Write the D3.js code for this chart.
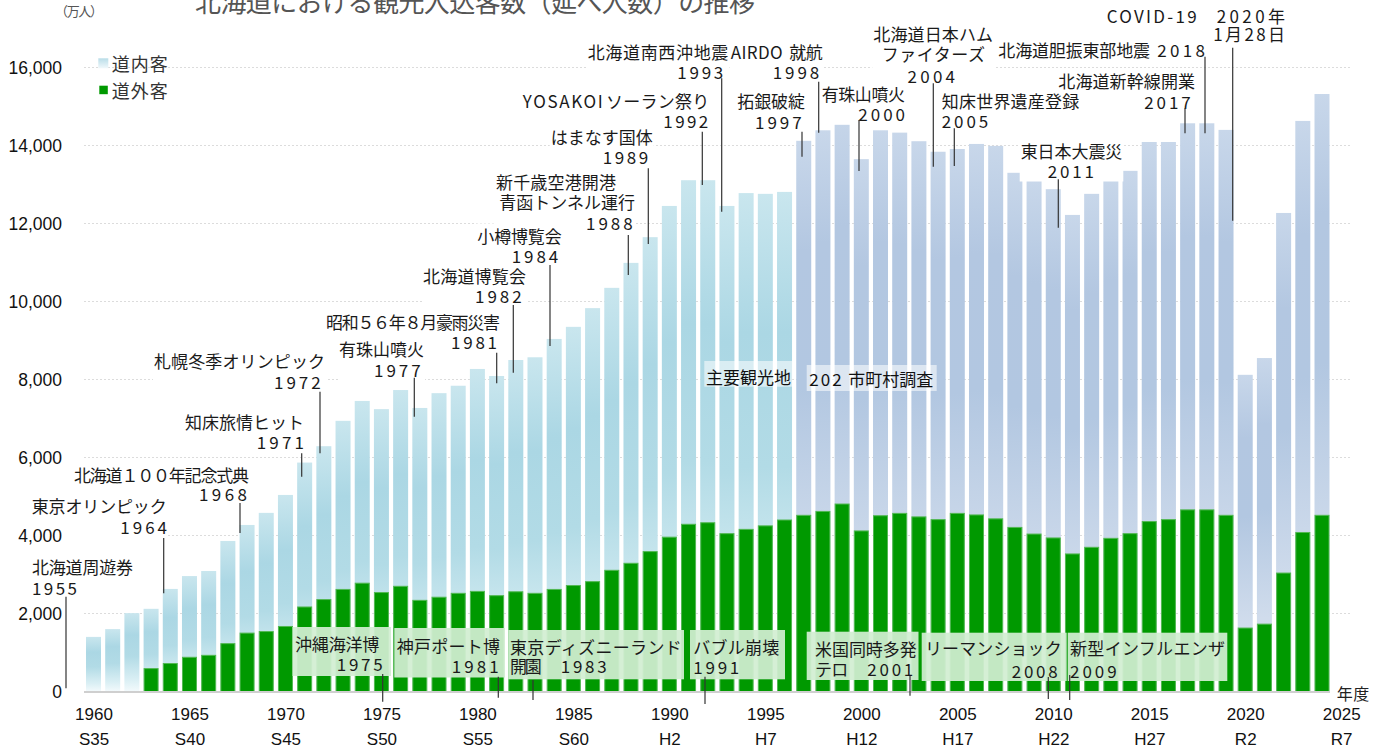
<!DOCTYPE html>
<html>
<head>
<meta charset="utf-8">
<script src="https://cdn.jsdelivr.net/npm/d3@7"></script>
<style>
  body { margin: 0; background: #fff; }
  svg { display: block; }
</style>
</head>
<body>
<svg id="chart" width="1384" height="749"></svg>
<script>
// 北海道 観光入込客数（延べ人数, 万人）
const years = d3.range(1960, 2025);

// 道内客
const insideVisitors = [
  1400, 1600, 2010, 1520, 1900, 2070, 2150, 2620, 2760, 3030,
  3360, 3690, 3920, 4310, 4660, 4690, 5020, 4920, 5220, 5310,
  5690, 5620, 5930, 6040, 6410, 6620, 7000, 7230, 7690, 8050,
  8480, 8810, 8770, 8390, 8610, 8500, 8400, 9590, 9760, 10120,
  9520, 9870, 9750, 9620, 9420, 9330, 9500, 9550, 9080, 9040,
  8930, 8680, 9050, 9250, 9290, 9720, 9670, 9900, 9900, 9870,
  6480, 6810, 9220, 10540, 10790
];

// 道外客
const outsideVisitors = [
  0, 0, 0, 600, 730, 890, 940, 1240, 1510, 1550,
  1680, 2180, 2370, 2630, 2790, 2550, 2710, 2350, 2430, 2530,
  2580, 2470, 2570, 2530, 2630, 2730, 2830, 3120, 3300, 3600,
  3970, 4300, 4340, 4060, 4170, 4260, 4410, 4530, 4630, 4820,
  4130, 4520, 4580, 4490, 4420, 4580, 4540, 4440, 4220, 4050,
  3950, 3540, 3710, 3940, 4060, 4370, 4420, 4670, 4670, 4530,
  1640, 1740, 3050, 4090, 4530
];

// 調査方法の変更（主要観光地 → 202市町村調査）
const surveyChangeYear = 1997;

const yTicks = [0, 2000, 4000, 6000, 8000, 10000, 12000, 14000, 16000];
const xTickYears = [1960, 1965, 1970, 1975, 1980, 1985, 1990, 1995, 2000, 2005, 2010, 2015, 2020, 2025];
const eraLabels = ["S35", "S40", "S45", "S50", "S55", "S60", "H2", "H7", "H12", "H17", "H22", "H27", "R2", "R7"];

const seriesNames = ["道内客", "道外客"];

// 上部の出来事ラベル: [文字, 左端x, 幅, 中心y] と引出線 [x, y1, y2]
const topNotes = [
  { lines: [["北海道周遊券", 32, 101, 566.7], ["1955", 32, 45, 587.7]], leader: [66, 596.7, 688.3] },
  { lines: [["東京オリンピック", 31.7, 135, 505], ["1964", 120.3, 46.7, 526]], leader: [163.7, 538, 593.3] },
  { lines: [["北海道１００年記念式典", 74, 175, 474], ["1968", 199, 48, 493.3]], leader: [240, 503, 533] },
  { lines: [["知床旅情ヒット", 185, 119, 421.7], ["1971", 256.7, 47.3, 441.7]], leader: [301.7, 453.3, 476.7] },
  { lines: [["札幌冬季オリンピック", 154, 171, 360], ["1972", 274, 46.7, 381]], leader: [320, 391.7, 453.3] },
  { lines: [["有珠山噴火", 339, 85, 348.3], ["1977", 374, 46.7, 369]], leader: [414.3, 377.7, 416.7] },
  { lines: [["昭和５６年８月豪雨災害", 326, 174, 321.7], ["1981", 451, 46, 341.7]], leader: [496.7, 352.7, 383.3] },
  { lines: [["北海道博覧会", 423, 103, 275], ["1982", 475, 46.7, 295]], leader: [513.3, 305, 372.7] },
  { lines: [["小樽博覧会", 477.3, 84.4, 235], ["1984", 511.7, 46.6, 255]], leader: [550, 265, 346] },
  { lines: [["新千歳空港開港", 496, 120, 181.7], ["青函トンネル運行", 499.3, 135.7, 201.7], ["1988", 586, 46.7, 222.3]], leader: [628.3, 235, 275] },
  { lines: [["はまなす国体", 550.7, 102, 136.7], ["1989", 602.7, 45.6, 156.7]], leader: [648.3, 168.3, 244] },
  { lines: [["YOSAKOI", 522.7, 80, 100], ["ソーラン祭り", 606, 103.3, 100], ["1992", 663.3, 45, 120]], leader: [702.3, 131.7, 185] },
  { lines: [["北海道南西沖地震", 587.7, 140.6, 51.7], ["1993", 677.3, 46, 71.7]], leader: [721.7, 78.3, 211.7] },
  { lines: [["AIRDO", 730.7, 52, 51.7], ["就航", 789.3, 33.4, 51.7], ["1998", 772.7, 46.6, 71.7]], leader: [818.7, 81.7, 132.7] },
  { lines: [["拓銀破綻", 737.3, 67.7, 100], ["1997", 755, 46.7, 121.7]], leader: [802, 131.7, 156.7] },
  { lines: [["有珠山噴火", 821.7, 83.3, 93.3], ["2000", 858.3, 46.7, 113.3]], leader: [859, 120, 171] },
  { lines: [["北海道日本ハム", 873.3, 119.7, 33], ["ファイターズ", 881.7, 103.3, 53.3], ["2004", 907.5, 47.5, 75]], leader: [933.3, 83.3, 166.7] },
  { lines: [["知床世界遺産登録", 941.7, 137.6, 100], ["2005", 941.7, 46.6, 120]], leader: [954.3, 128.3, 166] },
  { lines: [["東日本大震災", 1020.7, 101.6, 150], ["2011", 1047.7, 46.3, 170]], leader: [1058.3, 179.3, 227.7] },
  { lines: [["北海道胆振東部地震", 998.3, 151.7, 49.3], ["2018", 1157.3, 47.7, 49.3]], leader: [1205, 56.7, 133.3] },
  { lines: [["北海道新幹線開業", 1058.3, 136.7, 80], ["2017", 1144.3, 46.4, 101]], leader: [1185, 108.3, 133.3] },
  { lines: [["COVID-19", 1106.7, 90, 15], ["2020年", 1216.7, 68.3, 15], ["1月28日", 1213.3, 71.7, 33.3]], leader: [1232.7, 47.7, 220.7] }
];

// 下部の緑枠ラベル: 枠 [x0, x1, y0, y1]
const bottomNotes = [
  { box: [292.5, 391, 627, 676], lines: [["沖縄海洋博", 295, 84.3, 643.3], ["1975", 336.7, 46, 663.3]], leader: [382.7, 674, 701.7] },
  { box: [394.3, 505, 628, 677.5], lines: [["神戸ポート博", 396.7, 103.3, 645], ["1981", 451.7, 47, 665]], leader: [498.3, 676.7, 697.7] },
  { box: [508.3, 684, 630, 679.3], lines: [["東京ディズニーランド", 510, 171.7, 646], ["開園", 510, 31.7, 665.7], ["1983", 560.7, 46, 665.7]], leader: [533, 680, 700] },
  { box: [690, 785, 630, 679.3], lines: [["バブル崩壊", 693.3, 86, 646.7], ["1991", 693.3, 46, 666.7]], leader: [705, 676.7, 704] },
  { box: [806.7, 918.5, 631.7, 680], lines: [["米国同時多発", 815, 101.7, 648.3], ["テロ", 815, 33.3, 668.3], ["2001", 867.3, 46, 668.3]], leader: [910, 676, 695.7] },
  { box: [921.7, 1066.7, 632.7, 681], lines: [["リーマンショック", 925, 136.7, 647.7], ["2008", 1011.7, 46, 670]], leader: [1048.3, 677, 699] },
  { box: [1067.7, 1227.3, 632.7, 681], lines: [["新型インフルエンザ", 1070, 155, 647.7], ["2009", 1070, 46.7, 670]], leader: [1069.7, 675, 700] }
];

const JP = "'Noto Sans CJK JP', 'Noto Sans', sans-serif";
const NUM = "'Liberation Sans', Arial, sans-serif";

const svg = d3.select("#chart");

// scales
const x = d3.scaleLinear().domain([1960, 2024]).range([93.5, 1322]);
const y = d3.scaleLinear().domain([0, 16000]).range([691.5, 67.5]);
const barW = 15;

// gradients for the 道内客 bars
const defs = svg.append("defs");
function addGradient(id, stops) {
  const g = defs.append("linearGradient").attr("id", id)
    .attr("x1", 0).attr("y1", 0).attr("x2", 0).attr("y2", 1);
  stops.forEach(([o, c]) => g.append("stop").attr("offset", o).attr("stop-color", c));
}
addGradient("gradOld", [[0, "#c9e6ee"], [0.28, "#abd7e4"], [0.55, "#b2dbe6"], [0.85, "#daeff4"], [1, "#f3fafc"]]);
addGradient("gradNew", [[0, "#c8d7ea"], [0.2, "#b3c7e1"], [0.45, "#b2c7e1"], [0.78, "#d0dcec"], [1, "#dee6f1"]]);
addGradient("gradLegend", [[0, "#b9dde8"], [1, "#f0f8fb"]]);

// gridlines
svg.append("g").selectAll("line")
  .data(yTicks.filter(d => d > 0))
  .join("line")
  .attr("x1", 84).attr("x2", 1352)
  .attr("y1", d => y(d)).attr("y2", d => y(d))
  .attr("stroke", "#dcdcdc").attr("stroke-width", 1)
  .attr("stroke-dasharray", "2,2");

// stacked data
const table = years.map((yr, i) => ({ year: yr, "道外客": outsideVisitors[i], "道内客": insideVisitors[i] }));
const stack = d3.stack().keys(["道外客", "道内客"]);
const series = stack(table);
const outsideSeries = series[0];
const insideSeries = series[1];

// 道内客: drawn from the stack top down to the baseline, 道外客 overlays the lower part
svg.append("g").selectAll("rect")
  .data(insideSeries)
  .join("rect")
  .attr("x", d => x(d.data.year) - barW / 2)
  .attr("width", barW)
  .attr("y", d => y(d[1]))
  .attr("height", d => y(0) - y(d[1]))
  .attr("fill", d => d.data.year >= surveyChangeYear ? "url(#gradNew)" : "url(#gradOld)");

svg.append("g").selectAll("rect")
  .data(outsideSeries.filter(d => d[1] > d[0]))
  .join("rect")
  .attr("x", d => x(d.data.year) - barW / 2 + 0.5)
  .attr("width", barW - 1)
  .attr("y", d => y(d[1]) + 0.5)
  .attr("height", d => y(d[0]) - y(d[1]) - 0.5)
  .attr("fill", "#009900")
  .attr("stroke", "#52b852")
  .attr("stroke-width", 1);

// baseline
svg.append("line")
  .attr("x1", 84).attr("x2", 1330)
  .attr("y1", y(0) + 0.5).attr("y2", y(0) + 0.5)
  .attr("stroke", "#cfcfcf").attr("stroke-width", 2);

// layers for the event notes (backings sit below the axis labels)
const noteBg = svg.append("g");

// y axis
const yAxis = svg.append("g")
  .attr("transform", "translate(63,0)")
  .call(d3.axisLeft(y).tickValues(yTicks).tickFormat(d3.format(",")).tickSize(0).tickPadding(1));
yAxis.select(".domain").remove();
yAxis.attr("font-family", NUM).attr("font-size", 17.5);
yAxis.selectAll("text").attr("fill", "#111").attr("dy", "0.36em");

// x axis: 西暦 + 和暦
const xAxis = svg.append("g")
  .attr("transform", `translate(0,${y(0)})`)
  .call(d3.axisBottom(x).tickValues(xTickYears).tickFormat(d3.format("d")).tickSize(0).tickPadding(16.5));
xAxis.select(".domain").remove();
xAxis.attr("font-family", NUM).attr("font-size", 17);
xAxis.selectAll("text").attr("fill", "#111");
xAxis.selectAll(".tick").append("text")
  .attr("fill", "#111")
  .attr("y", 41)
  .attr("dy", "0.71em")
  .text((d, i) => eraLabels[i]);

// unit labels
svg.append("text").attr("x", 1336.7).attr("y", 692.7)
  .attr("dominant-baseline", "central")
  .attr("font-family", JP).attr("font-size", 16).attr("fill", "#222")
  .attr("textLength", 32.6).attr("lengthAdjust", "spacing")
  .text("年度");

svg.append("text").attr("x", 55).attr("y", 10)
  .attr("dominant-baseline", "central")
  .attr("font-family", JP).attr("font-size", 13).attr("fill", "#555")
  .attr("textLength", 48).attr("lengthAdjust", "spacing")
  .text("（万人）");

// title
svg.append("text").attr("x", 195).attr("y", 12)
  .attr("font-family", JP).attr("font-size", 26).attr("fill", "#555")
  .attr("textLength", 560).attr("lengthAdjust", "spacing")
  .text("北海道における観光入込客数（延べ人数）の推移");

// legend
const legend = svg.append("g").attr("font-family", JP).attr("font-size", 18).attr("fill", "#333");
legend.append("rect").attr("x", 98.3).attr("y", 58.3).attr("width", 10).attr("height", 10).attr("fill", "url(#gradLegend)");
legend.append("rect").attr("x", 99.3).attr("y", 85.7).attr("width", 8.5).attr("height", 8.5).attr("fill", "#009900");
legend.selectAll("text.lg").data(seriesNames).join("text")
  .attr("class", "lg")
  .attr("x", 111.7)
  .attr("y", (d, i) => i === 0 ? 63.3 : 90)
  .attr("dominant-baseline", "central")
  .attr("textLength", 56).attr("lengthAdjust", "spacing")
  .text(d => d);

// survey method labels
const methodLabels = [
  { box: [704.3, 792.3, 361, 386.7], parts: [["主要観光地", 706, 85, 376]] },
  { box: [806.7, 936.7, 365, 391], parts: [["202", 809.3, 32.4, 378.3], ["市町村調査", 848.3, 85, 378.3]] }
];
methodLabels.forEach(m => {
  const g = svg.append("g").attr("font-family", JP).attr("font-size", 17).attr("fill", "#111");
  g.append("rect").attr("x", m.box[0]).attr("y", m.box[2])
    .attr("width", m.box[1] - m.box[0]).attr("height", m.box[3] - m.box[2])
    .attr("fill", "#ffffff").attr("opacity", 0.55);
  m.parts.forEach(([t, x0, w, cy]) => g.append("text")
    .attr("x", x0).attr("y", cy).attr("dominant-baseline", "central")
    .attr("textLength", w).attr("lengthAdjust", "spacing").text(t));
});

function writeLines(g, lines) {
  lines.forEach(([t, x0, w, cy]) => g.append("text")
    .attr("x", x0).attr("y", cy)
    .attr("dominant-baseline", "central")
    .attr("textLength", w).attr("lengthAdjust", "spacing")
    .text(t));
}

// bottom notes
bottomNotes.forEach(n => {
  const g = svg.append("g").attr("font-family", JP).attr("font-size", 17).attr("fill", "#1a1a1a");
  g.append("rect").attr("x", n.box[0]).attr("y", n.box[2])
    .attr("width", n.box[1] - n.box[0]).attr("height", n.box[3] - n.box[2])
    .attr("fill", "#d2eed2").attr("opacity", 0.93);
  writeLines(g, n.lines);
  g.append("line").attr("x1", n.leader[0]).attr("x2", n.leader[0])
    .attr("y1", n.leader[1]).attr("y2", n.leader[2])
    .attr("stroke", "#333").attr("stroke-width", 1.2);
});

// top notes: white backings, then texts and leaders on top
const noteText = svg.append("g").attr("font-family", JP).attr("font-size", 17).attr("fill", "#1a1a1a");
const noteLead = svg.append("g");
topNotes.forEach(n => {
  const g = noteText.append("g");
  writeLines(g, n.lines);
  const bb = g.node().getBBox();
  noteBg.append("rect").attr("fill", "#fff")
    .attr("x", bb.x - 1).attr("y", bb.y + 1)
    .attr("width", bb.width + 2).attr("height", bb.height - 2);
  noteLead.append("line").attr("x1", n.leader[0]).attr("x2", n.leader[0])
    .attr("y1", n.leader[1]).attr("y2", n.leader[2])
    .attr("stroke", "#333").attr("stroke-width", 1.2);
});
</script>
</body>
</html>
